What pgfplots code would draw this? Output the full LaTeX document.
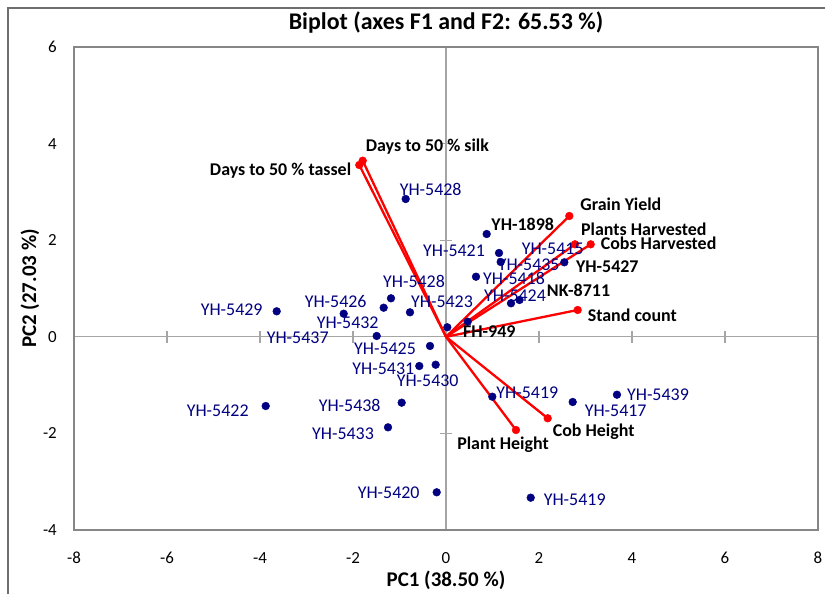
\documentclass[border=0pt]{standalone}
\usepackage{fontspec}
\setmainfont{Carlito}
\usepackage{pgfplots}
\pgfplotsset{compat=1.18}

\definecolor{navy}{RGB}{0,0,128}
\definecolor{boxgray}{RGB}{134,134,134}
\definecolor{zerogray}{RGB}{165,165,165}
\definecolor{framegray}{RGB}{110,110,110}

\tikzset{vlab/.style={font=\bfseries\fontsize{18}{20}\selectfont, text=black, inner sep=0pt}}
\pgfplotsset{vec/.style={red, line width=2.3bp, mark=*, mark indices={2},
    mark size=3.9bp, mark options={solid, line width=0.4bp}}}

% one observation: x, y, label offset from the point (bp), name
\newcommand\obs[6][navy]{%
  \addplot[only marks, mark=*, mark size=3.9bp, navy,
    point meta=explicit symbolic, nodes near coords,
    nodes near coords style={anchor=center, xshift=#4bp, yshift=#5bp,
      inner sep=0pt, text=#1, font=\fontsize{18}{20}\selectfont}]
    coordinates {(#2,#3) [#6]};}
\newcommand\chk[5]{\obs[black]{#1}{#2}{#3}{#4}{\textbf{#5}}}

\begin{document}
\begin{tikzpicture}
\useasboundingbox (-74bp,-64bp) rectangle (751bp,530bp);

% zero lines with cross ticks
\begin{axis}[
  at={(0,0)}, anchor=south west, scale only axis,
  width=744bp, height=483bp,
  xmin=-8, xmax=8, ymin=-4, ymax=6,
  axis lines=middle,
  axis line style={-, draw=zerogray, line width=1.2bp},
  xtick={-6,-4,-2,2,4,6}, ytick={-2,2,4},
  xticklabels={}, yticklabels={},
  tick align=center, major tick length=12bp,
  tick style={draw=zerogray, line width=1.2bp},
]
\end{axis}

\begin{axis}[
  at={(0,0)}, anchor=south west, scale only axis,
  width=744bp, height=483bp,
  xmin=-8, xmax=8, ymin=-4, ymax=6,
  clip=false,
  axis line style={draw=boxgray, line width=1.8bp},
  xtick={-8,-6,...,8}, ytick={-4,-2,...,6},
  major tick length=0pt,
  /pgf/number format/assume math mode=true,
  ticklabel style={font=\fontsize{17}{20}\selectfont, inner sep=0pt},
  xticklabel style={anchor=center, yshift=-28bp},
  yticklabel style={anchor=east, xshift=-17bp},
  title={Biplot (axes F1 and F2: 65.53 \%)},
  title style={at={(0.5,1.0383)}, anchor=center, font=\bfseries\fontsize{24}{28}\selectfont},
  xlabel={PC1 (38.50 \%)},
  xlabel style={at={(axis description cs:0.5,-0.1035)}, anchor=center, font=\bfseries\fontsize{21}{24}\selectfont},
  ylabel={PC2 (27.03 \%)},
  ylabel style={at={(axis description cs:-0.0591,0.5)}, anchor=center, font=\bfseries\fontsize{21}{24}\selectfont},
]

% variables
\addplot[vec] coordinates {(0,0) (-1.791,3.646)}
  node[pos=1, vlab, anchor=west, xshift=2bp, yshift=14bp] {Days to 50 \% silk};
\addplot[vec] coordinates {(0,0) (-1.865,3.557)}
  node[pos=1, vlab, anchor=east, xshift=-7bp, yshift=-6bp] {Days to 50 \% tassel};
\addplot[vec] coordinates {(0,0) (2.652,2.501)}
  node[pos=1, vlab, anchor=west, xshift=10bp, yshift=12bp] {Grain Yield};
\addplot[vec] coordinates {(0,0) (2.774,1.915)}
  node[pos=1, vlab, anchor=west, xshift=5bp, yshift=15bp] {Plants Harvested};
\addplot[vec] coordinates {(0,0) (3.112,1.915)}
  node[pos=1, vlab, anchor=west, xshift=9bp, yshift=1bp] {Cobs Harvested};
\addplot[vec] coordinates {(0,0) (2.832,0.555)}
  node[pos=1, vlab, anchor=west, xshift=9bp, yshift=-5bp] {Stand count};
\addplot[vec] coordinates {(0,0) (1.505,-1.930)}
  node[pos=1, vlab, anchor=center, xshift=-13bp, yshift=-15bp] {Plant Height};
\addplot[vec] coordinates {(0,0) (2.187,-1.687)}
  node[pos=1, vlab, anchor=center, xshift=46bp, yshift=-13bp] {Cob Height};

% observations
\obs{-0.867}{2.853}{25}{10}{YH-5428}
\obs{1.140}{1.735}{-45}{2}{YH-5421}
\obs{1.176}{1.549}{28}{-3}{YH-5435}
\obs{0.645}{1.244}{38}{-2}{YH-5418}
\obs{1.398}{0.694}{4}{8}{YH-5424}
\obs{0.467}{0.313}{85}{73}{YH-5415}
\obs{-3.641}{0.528}{-45}{2}{YH-5429}
\obs{-2.200}{0.478}{-8}{12}{YH-5426}
\obs{-1.340}{0.602}{-36}{-15}{YH-5432}
\obs{-1.183}{0.797}{23}{17}{YH-5428}
\obs{-0.774}{0.507}{32}{11}{YH-5423}
\obs{-1.490}{0.017}{-79}{-2}{YH-5437}
\obs{-0.344}{-0.190}{-45}{-3}{YH-5425}
\obs{-0.574}{-0.605}{-36}{-3}{YH-5431}
\obs{-0.222}{-0.578}{-8}{-16}{YH-5430}
\obs{-3.877}{-1.433}{-48}{-5}{YH-5422}
\obs{-0.953}{-1.364}{-52}{-3}{YH-5438}
\obs{-1.247}{-1.874}{-45}{-6}{YH-5433}
\obs{-0.200}{-3.219}{-48}{0}{YH-5420}
\obs{0.996}{-1.240}{35}{4}{YH-5419}
\obs{2.725}{-1.350}{43}{-9}{YH-5417}
\obs{3.677}{-1.199}{41}{0}{YH-5439}
\obs{1.822}{-3.331}{44}{-2}{YH-5419}
% checks
\chk{0.875}{2.128}{36}{10}{YH-1898}
\chk{2.544}{1.542}{43}{-4}{YH-5427}
\chk{1.581}{0.762}{59}{10}{NK-8711}
\chk{0.028}{0.197}{42}{-4}{FH-949}

\end{axis}

\draw[framegray, line width=1.5bp] (-66bp,-80bp) -- (-66bp,522bp) -- (780bp,522bp);
\end{tikzpicture}
\end{document}
